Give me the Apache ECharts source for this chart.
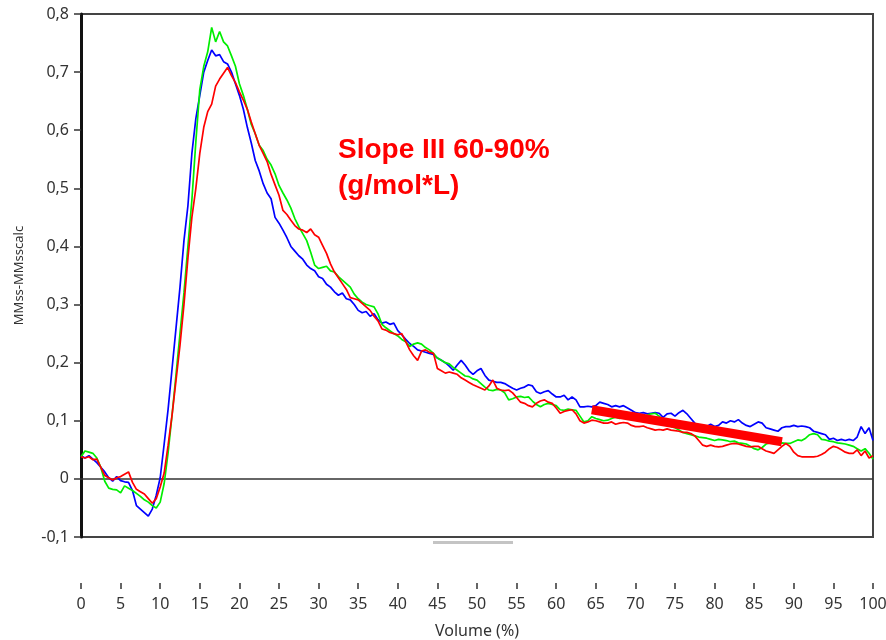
<!DOCTYPE html>
<html>
<head>
<meta charset="utf-8">
<script src="https://cdn.jsdelivr.net/npm/echarts@6/dist/echarts.min.js"></script>
<style>
html,body{margin:0;padding:0;background:#fff;}
#chart{width:886px;height:640px;}
</style>
</head>
<body>
<div id="chart"></div>
<script>
// Volume (%) sampling grid, step 0.5 from 0 to 100
const volumeStep = 0.5;
const volume = Array.from({length: 201}, (_, i) => i * volumeStep);

const blue = [
0.040,0.036,0.040,0.034,0.028,0.020,0.012,0.002,-0.004,0.004,
-0.003,-0.005,-0.006,-0.020,-0.046,-0.052,-0.058,-0.064,-0.052,-0.028,
0.002,0.060,0.120,0.190,0.260,0.330,0.410,0.470,0.560,0.620,
0.660,0.700,0.720,0.738,0.728,0.730,0.718,0.714,0.700,0.680,
0.660,0.636,0.605,0.578,0.548,0.530,0.508,0.492,0.482,0.450,
0.440,0.428,0.415,0.400,0.392,0.384,0.378,0.368,0.362,0.358,
0.348,0.345,0.335,0.330,0.322,0.316,0.320,0.310,0.308,0.300,
0.290,0.286,0.288,0.280,0.284,0.274,0.268,0.270,0.266,0.268,
0.255,0.248,0.240,0.233,0.228,0.222,0.220,0.218,0.216,0.214,
0.208,0.204,0.200,0.194,0.187,0.196,0.204,0.196,0.186,0.180,
0.186,0.190,0.178,0.170,0.168,0.166,0.166,0.164,0.160,0.156,
0.153,0.156,0.158,0.162,0.160,0.150,0.147,0.150,0.152,0.146,
0.141,0.141,0.144,0.136,0.141,0.136,0.124,0.124,0.125,0.124,
0.126,0.132,0.130,0.128,0.124,0.126,0.124,0.126,0.122,0.118,
0.114,0.113,0.114,0.112,0.113,0.114,0.113,0.106,0.112,0.113,
0.108,0.114,0.118,0.112,0.104,0.096,0.090,0.092,0.090,0.094,
0.090,0.092,0.098,0.096,0.100,0.098,0.102,0.096,0.092,0.090,
0.094,0.098,0.096,0.088,0.086,0.084,0.082,0.088,0.090,0.090,
0.092,0.090,0.091,0.090,0.088,0.082,0.080,0.078,0.076,0.068,
0.070,0.066,0.068,0.066,0.068,0.066,0.072,0.090,0.078,0.088,
0.066
];

const green = [
0.038,0.048,0.046,0.044,0.036,0.020,-0.004,-0.016,-0.018,-0.019,
-0.024,-0.012,-0.016,-0.020,-0.025,-0.030,-0.036,-0.040,-0.046,-0.050,
-0.040,-0.008,0.045,0.110,0.180,0.250,0.320,0.400,0.480,0.580,
0.670,0.710,0.735,0.777,0.752,0.770,0.752,0.745,0.728,0.710,
0.680,0.660,0.636,0.610,0.594,0.574,0.565,0.550,0.540,0.525,
0.505,0.492,0.480,0.466,0.448,0.434,0.422,0.410,0.390,0.368,
0.362,0.364,0.366,0.358,0.356,0.348,0.342,0.336,0.330,0.318,
0.310,0.304,0.300,0.298,0.296,0.284,0.266,0.260,0.255,0.250,
0.246,0.240,0.236,0.228,0.232,0.234,0.232,0.226,0.222,0.216,
0.208,0.204,0.200,0.198,0.192,0.187,0.182,0.177,0.176,0.172,
0.170,0.164,0.158,0.153,0.152,0.154,0.153,0.148,0.136,0.138,
0.141,0.142,0.140,0.141,0.134,0.128,0.124,0.128,0.130,0.128,
0.126,0.119,0.118,0.120,0.119,0.118,0.108,0.098,0.100,0.107,
0.104,0.102,0.100,0.101,0.104,0.106,0.104,0.107,0.108,0.106,
0.104,0.106,0.107,0.110,0.112,0.113,0.108,0.100,0.094,0.090,
0.088,0.084,0.080,0.078,0.076,0.074,0.072,0.071,0.070,0.068,
0.066,0.068,0.067,0.066,0.064,0.065,0.062,0.061,0.060,0.056,
0.052,0.050,0.054,0.060,0.062,0.061,0.060,0.062,0.061,0.061,
0.064,0.067,0.066,0.070,0.076,0.078,0.076,0.068,0.067,0.065,
0.064,0.062,0.061,0.060,0.058,0.056,0.052,0.048,0.052,0.044,
0.034
];

const red = [
0.038,0.036,0.038,0.033,0.034,0.020,0.006,0.002,-0.002,0.002,
0.004,0.008,0.012,-0.006,-0.018,-0.022,-0.026,-0.034,-0.042,-0.034,
-0.014,0.010,0.058,0.110,0.170,0.230,0.300,0.380,0.450,0.500,
0.560,0.605,0.632,0.645,0.676,0.688,0.698,0.708,0.694,0.682,
0.666,0.652,0.636,0.614,0.594,0.574,0.560,0.546,0.524,0.506,
0.488,0.462,0.455,0.445,0.436,0.430,0.428,0.424,0.430,0.420,
0.416,0.402,0.388,0.370,0.356,0.346,0.336,0.326,0.312,0.310,
0.308,0.302,0.296,0.290,0.280,0.272,0.258,0.256,0.252,0.250,
0.248,0.250,0.236,0.222,0.212,0.204,0.220,0.222,0.218,0.216,
0.190,0.186,0.182,0.184,0.182,0.180,0.174,0.170,0.166,0.162,
0.159,0.156,0.153,0.160,0.170,0.156,0.153,0.152,0.153,0.148,
0.140,0.132,0.130,0.126,0.124,0.130,0.134,0.136,0.132,0.130,
0.122,0.113,0.116,0.118,0.119,0.112,0.100,0.096,0.098,0.101,
0.100,0.098,0.096,0.096,0.098,0.094,0.096,0.097,0.096,0.092,
0.090,0.090,0.091,0.088,0.086,0.084,0.085,0.084,0.086,0.084,
0.083,0.082,0.080,0.080,0.078,0.074,0.066,0.058,0.056,0.058,
0.056,0.055,0.056,0.058,0.060,0.061,0.060,0.058,0.056,0.055,
0.056,0.056,0.052,0.048,0.046,0.044,0.050,0.056,0.061,0.056,
0.046,0.040,0.038,0.038,0.038,0.038,0.039,0.042,0.046,0.052,
0.056,0.054,0.050,0.046,0.044,0.044,0.050,0.040,0.048,0.036,
0.040
];

// Fitted slope segment (Slope III, 60-90%)
const slopeX = [64.5, 88.5];
const slopeY = [0.119, 0.064];

const zeroLineX = [0, 100];
const zeroLineY = [0, 0];

const yTicks = {min: -0.1, max: 0.8, interval: 0.1};
const xTicks = {min: 0, max: 100, interval: 5};

const annotationText = 'Slope III 60-90%\n(g/mol*L)';
const xName = 'Volume (%)';
const yName = 'MMss-MMsscalc';

const pair = (xs, ys) => xs.map((x, i) => [x, ys[i]]);

const chart = echarts.init(document.getElementById('chart'), null, {renderer: 'canvas'});
const labelFont = 'Noto Sans';
chart.setOption({
  animation: false,
  backgroundColor: '#fff',
  grid: {left: 81, right: 13, top: 14, bottom: 103, show: true, borderColor: '#444', borderWidth: 2,
         containLabel: false, outerBoundsMode: 'none'},
  xAxis: {
    type: 'value', min: xTicks.min, max: xTicks.max, interval: xTicks.interval,
    offset: 46,
    axisLine: {show: false, onZero: false},
    axisTick: {show: true, length: 6, lineStyle: {color: '#333', width: 1.5}},
    axisLabel: {margin: 13, fontSize: 16, color: '#333', fontFamily: labelFont},
    splitLine: {show: false},
    name: xName, nameLocation: 'middle', nameGap: 40,
    nameTextStyle: {fontSize: 16, color: '#333', fontFamily: labelFont}
  },
  yAxis: {
    type: 'value', min: yTicks.min, max: yTicks.max, interval: yTicks.interval,
    axisLine: {show: true, onZero: false, lineStyle: {color: '#111', width: 3}},
    axisTick: {show: true, length: 7, lineStyle: {color: '#333', width: 1.5}},
    axisLabel: {
      margin: 12, fontSize: 16, color: '#333', fontFamily: labelFont,
      formatter: v => {
        const r = Math.round(v * 10) / 10;
        if (r === 0) return '0';
        return r.toFixed(1).replace('.', ',');
      }
    },
    splitLine: {show: false},
    name: yName, nameLocation: 'middle', nameGap: 55,
    nameTextStyle: {fontSize: 13, color: '#333', fontFamily: labelFont}
  },
  series: [
    {type: 'line', data: pair(zeroLineX, zeroLineY), showSymbol: false, silent: true,
     lineStyle: {color: '#333', width: 1.5}, z: 1},
    {type: 'line', name: 'blue', data: pair(volume, blue), showSymbol: false,
     lineStyle: {color: '#0000ff', width: 1.7}, z: 2},
    {type: 'line', name: 'green', data: pair(volume, green), showSymbol: false,
     lineStyle: {color: '#00ee00', width: 1.7}, z: 3},
    {type: 'line', name: 'red', data: pair(volume, red), showSymbol: false,
     lineStyle: {color: '#ff0000', width: 1.7}, z: 4},
    {type: 'line', name: 'slope', data: pair(slopeX, slopeY), showSymbol: false,
     lineStyle: {color: '#ff0000', width: 9, cap: 'butt'}, z: 5}
  ],
  graphic: [
    {type: 'text', left: 338, top: 132, z: 10,
     style: {text: annotationText, fill: '#ff0000', font: 'bold 28px "Liberation Sans", Arial, sans-serif', lineHeight: 36}},
    {type: 'rect', shape: {x: 433, y: 541, width: 80, height: 3}, style: {fill: '#c4c4c4'}, z: 10}
  ]
});
</script>
</body>
</html>
